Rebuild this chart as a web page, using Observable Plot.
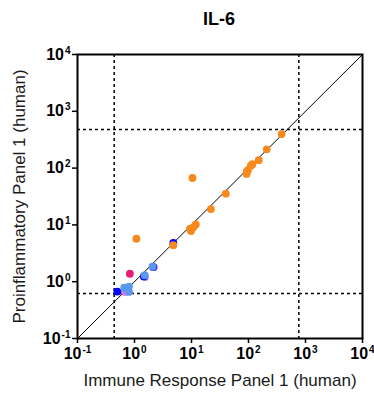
<!DOCTYPE html>
<html><head><meta charset="utf-8">
<script src="https://cdn.jsdelivr.net/npm/d3@7"></script>
<script src="https://cdn.jsdelivr.net/npm/@observablehq/plot@0.6"></script>
<style>
body{margin:0;background:#fff;font-family:"Liberation Sans",Arial,sans-serif;}
#title{width:310px;padding-left:64px;height:40px;line-height:38px;text-align:center;font-weight:bold;font-size:18px;color:#000;}
</style></head>
<body>
<div id="title">IL-6</div>
<div id="chart"></div>
<script>
const titleText = "IL-6";
const xLabel = "Immune Response Panel 1 (human)";
const yLabel = "Proinflammatory Panel 1 (human)";
const tickValues = [0.1, 1, 10, 100, 1000, 10000];
const cutoffX = [0.44, 764];
const cutoffY = [0.62, 479];
const identity = [0.1, 10000];

const orangeX = [380, 209, 151, 117, 110, 98, 93, 93, 10.4, 40, 21.9, 11.9, 10.8, 9.4, 9.8, 1.08, 4.8];
const orangeY = [398, 214, 138, 117, 110, 93, 87, 79, 67, 35.5, 19, 10.2, 9.1, 8.5, 7.8, 5.7, 4.4];
const blueX = [4.8, 1.46, 2.12, 0.50];
const blueY = [4.8, 1.24, 1.82, 0.67];
const lightBlueX = [1.51, 2.07, 0.66, 0.80, 0.80];
const lightBlueY = [1.30, 1.84, 0.785, 0.82, 0.66];
const pinkX = [0.83];
const pinkY = [1.38];
const lilacX = [0.68, 1.53, 2.19];
const lilacY = [0.66, 1.21, 1.80];

const colors = {orange:"#f7891d", blue:"#0000ff", lightBlue:"#5a98f0", pink:"#e51e78", lilac:"#d07ae0"};

function pts(xs, ys){ return xs.map((x,i)=>({x, y: ys[i]})); }

const font = '"Liberation Sans", Arial, sans-serif';
const R = 3.9;
const expFmt = d => String(Math.round(Math.log10(d)));

const plot = Plot.plot({
  width: 374, height: 356,
  marginTop: 14, marginLeft: 77, marginRight: 12, marginBottom: 58,
  style: {fontFamily: font, fontSize: "15px", color: "#000", background: "#fff"},
  x: {type: "log", domain: [0.1, 10000]},
  y: {type: "log", domain: [0.1, 10000]},
  marks: [
    Plot.ruleX(cutoffX, {stroke: "#000", strokeWidth: 1.5, strokeDasharray: "3,3"}),
    Plot.ruleY(cutoffY, {stroke: "#000", strokeWidth: 1.5, strokeDasharray: "3,3"}),
    Plot.line(identity, {x: d => d, y: d => d, stroke: "#000", strokeWidth: 1}),
    Plot.dot(pts(lilacX, lilacY), {x: "x", y: "y", r: R, fill: colors.lilac}),
    Plot.dot(pts(blueX, blueY), {x: "x", y: "y", r: R, fill: colors.blue}),
    Plot.dot(pts(lightBlueX, lightBlueY), {x: "x", y: "y", r: R, fill: colors.lightBlue}),
    Plot.dot(pts(pinkX, pinkY), {x: "x", y: "y", r: R, fill: colors.pink}),
    Plot.dot(pts(orangeX, orangeY), {x: "x", y: "y", r: R, fill: colors.orange}),
    Plot.frame({stroke: "#000", strokeWidth: 2}),
    Plot.axisX({ticks: tickValues, tickSize: 5, tickPadding: 4, tickFormat: expFmt, label: null, strokeWidth: 1.5, fontSize: 16, fontWeight: "bold", fill: "#000"}),
    Plot.axisY({ticks: tickValues, tickSize: 5, tickPadding: 2, tickFormat: expFmt, label: null, strokeWidth: 1.5, fontSize: 16, fontWeight: "bold", fill: "#000"}),
    Plot.text([xLabel], {frameAnchor: "bottom", dy: 47, fontSize: 17, fontWeight: "normal", fill: "#1a1a1a"}),
    Plot.text([yLabel], {frameAnchor: "left", textAnchor: "middle", dx: -58, rotate: -90, fontSize: 17, fontWeight: "normal", fill: "#1a1a1a"})
  ]
});

// superscript exponents on tick labels
d3.select(plot).selectAll('g[aria-label$="tick label"] text').each(function(){
  const t = d3.select(this);
  const e = t.text();
  if (!/^-?\d+$/.test(e)) return;
  t.text(null);
  t.append("tspan").text("10");
  t.append("tspan").attr("dx", "1").attr("dy", "-0.6em").attr("font-size", "10px").text(e);
});

document.getElementById("chart").appendChild(plot);
</script>
</body></html>
